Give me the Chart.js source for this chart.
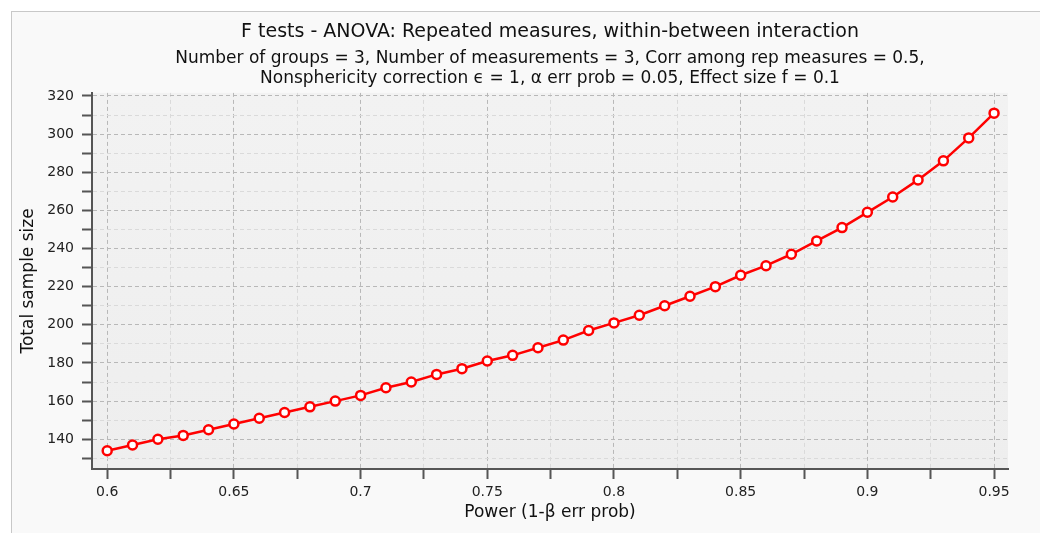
<!DOCTYPE html>
<html>
<head>
<meta charset="utf-8">
<script src="https://cdn.jsdelivr.net/npm/chart.js@4"></script>
<style>
  html, body { margin: 0; padding: 0; background: #ffffff; }
  #wrap { width: 1040px; height: 533px; }
</style>
</head>
<body>
<div id="wrap"><canvas id="chart" width="1040" height="533"></canvas></div>
<script>
// power values on the x axis
const power = [0.60, 0.61, 0.62, 0.63, 0.64, 0.65, 0.66, 0.67, 0.68, 0.69,
               0.70, 0.71, 0.72, 0.73, 0.74, 0.75, 0.76, 0.77, 0.78, 0.79,
               0.80, 0.81, 0.82, 0.83, 0.84, 0.85, 0.86, 0.87, 0.88, 0.89,
               0.90, 0.91, 0.92, 0.93, 0.94, 0.95];
// total sample size
const sampleSize = [134, 137, 140, 142, 145, 148, 151, 154, 157, 160,
                    163, 167, 170, 174, 177, 181, 184, 188, 192, 197,
                    201, 205, 210, 215, 220, 226, 231, 237, 244, 251,
                    259, 267, 276, 286, 298, 311];

const xTicks = [0.6, 0.625, 0.65, 0.675, 0.7, 0.725, 0.75, 0.775, 0.8, 0.825, 0.85, 0.875, 0.9, 0.925, 0.95];
const xLabels = ['0.6', '', '0.65', '', '0.7', '', '0.75', '', '0.8', '', '0.85', '', '0.9', '', '0.95'];
const yTicks = [130, 140, 150, 160, 170, 180, 190, 200, 210, 220, 230, 240, 250, 260, 270, 280, 290, 300, 310, 320];

const titleText = 'F tests - ANOVA: Repeated measures, within-between interaction';
const subtitleLines = [
  'Number of groups = 3, Number of measurements = 3, Corr among rep measures = 0.5,',
  'Nonsphericity correction \u03f5 = 1, \u03b1 err prob = 0.05, Effect size f = 0.1'
];

const FONT = "'DejaVu Sans', sans-serif";

// background of the whole panel and of the plot area
const backdrop = {
  id: 'backdrop',
  beforeDraw(chart) {
    const ctx = chart.ctx;
    const a = chart.chartArea;
    ctx.save();
    ctx.fillStyle = '#ffffff';
    ctx.fillRect(0, 0, chart.width, chart.height);
    ctx.fillStyle = '#f9f9f9';
    ctx.fillRect(11, 11, chart.width, chart.height);
    ctx.strokeStyle = '#c8c8c8';
    ctx.lineWidth = 1;
    ctx.strokeRect(11.5, 11.5, chart.width + 10, chart.height + 10);
    const g = ctx.createLinearGradient(0, a.top, 0, a.bottom);
    g.addColorStop(0, '#f2f2f2');
    g.addColorStop(1, '#eeeeee');
    ctx.fillStyle = g;
    ctx.fillRect(a.left, a.top, a.right - a.left, a.bottom - a.top);
    ctx.restore();
  }
};

function isMajorX(v) { return Math.abs(v * 20 - Math.round(v * 20)) < 1e-6; }
function isMajorY(v) { return v % 20 === 0; }

new Chart(document.getElementById('chart'), {
  type: 'line',
  data: {
    datasets: [{
      data: power.map((p, i) => ({ x: p, y: sampleSize[i] })),
      borderColor: '#ff0000',
      borderWidth: 2.5,
      backgroundColor: '#ffffff',
      pointBackgroundColor: '#ffffff',
      pointBorderColor: '#ff0000',
      pointBorderWidth: 2.5,
      pointRadius: 4.5,
      tension: 0
    }]
  },
  options: {
    responsive: false,
    animation: false,
    layout: { padding: { left: 12, right: 32, top: 14, bottom: 10 } },
    plugins: {
      legend: { display: false },
      tooltip: { enabled: false },
      // titles centred over the plot area, like the original
      title: {
        display: true,
        fullSize: false,
        text: titleText,
        color: '#111111',
        font: { family: FONT, size: 19, weight: 'normal', lineHeight: 1.2 },
        padding: { top: 7, bottom: 5 }
      },
      subtitle: {
        display: true,
        fullSize: false,
        text: subtitleLines,
        color: '#111111',
        font: { family: FONT, size: 17, weight: 'normal', lineHeight: 1.18 },
        padding: { top: 0, bottom: 4 }
      }
    },
    scales: {
      x: {
        type: 'linear',
        min: 0.594,
        max: 0.9555,
        afterBuildTicks: s => { s.ticks = xTicks.map(v => ({ value: v })); },
        afterFit: s => { s.height = 54; },
        ticks: {
          autoSkip: false,
          maxRotation: 0,
          color: '#222222',
          font: { family: FONT, size: 14 },
          padding: 5,
          callback: (v, i) => xLabels[i]
        },
        grid: {
          color: c => (c.tick && isMajorX(c.tick.value)) ? '#b8b8b8' : '#dadada',
          lineWidth: 1,
          tickColor: '#555555',
          tickWidth: 2,
          tickLength: 10
        },
        border: { display: true, color: '#555555', width: 2, dash: [4, 3] },
        title: {
          display: true,
          text: 'Power (1-\u03b2 err prob)',
          color: '#111111',
          font: { family: FONT, size: 17 },
          padding: { top: 2, bottom: 0 }
        }
      },
      y: {
        min: 124.4,
        max: 321.6,
        afterBuildTicks: s => { s.ticks = yTicks.map(v => ({ value: v })); },
        afterFit: s => { s.width = 80; },
        ticks: {
          autoSkip: false,
          color: '#222222',
          font: { family: FONT, size: 14 },
          padding: 8,
          callback: v => isMajorY(v) ? String(v) : ''
        },
        grid: {
          color: c => (c.tick && isMajorY(c.tick.value)) ? '#b8b8b8' : '#dadada',
          lineWidth: 1,
          tickColor: '#555555',
          tickWidth: 2,
          tickLength: 10
        },
        border: { display: true, color: '#555555', width: 2, dash: [4, 3] },
        title: {
          display: true,
          text: 'Total sample size',
          color: '#111111',
          font: { family: FONT, size: 17 },
          padding: { top: 6, bottom: 0 }
        }
      }
    }
  },
  plugins: [backdrop]
});
</script>
</body>
</html>
